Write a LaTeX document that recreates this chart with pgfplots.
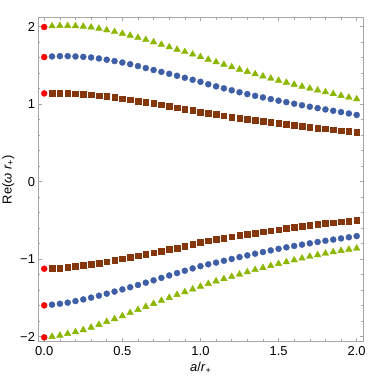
\documentclass[border=0pt]{standalone}
\usepackage{fontspec}
\setmainfont{Liberation Sans}
\usepackage{pgfplots}
\usepackage{pgfplotstable}
\pgfplotsset{compat=1.18}
\definecolor{qnmGreen}{HTML}{8DB600}
\definecolor{qnmBlue}{HTML}{3E5FA6}
\definecolor{qnmBrown}{HTML}{85360A}
\definecolor{frameGrey}{HTML}{A6A6A6}

% columns: a/r+, upper branch (tri, circ, sq), lower branch (sq, circ, tri)
\pgfplotstableread{
x    triU   cirU   sqU    sqL     cirL    triL
0.05 2.009  1.617  1.143  -1.120  -1.587  -2.000
0.10 2.013  1.621  1.143  -1.114  -1.575  -1.984
0.15 2.013  1.621  1.141  -1.100  -1.561  -1.962
0.20 2.010  1.617  1.137  -1.089  -1.541  -1.940
0.25 2.004  1.612  1.131  -1.079  -1.519  -1.914
0.30 1.994  1.604  1.123  -1.066  -1.496  -1.881
0.35 1.978  1.591  1.113  -1.048  -1.471  -1.845
0.40 1.957  1.575  1.101  -1.030  -1.445  -1.807
0.45 1.935  1.557  1.088  -1.012  -1.418  -1.771
0.50 1.913  1.539  1.074  -0.994  -1.390  -1.733
0.55 1.888  1.517  1.059  -0.976  -1.362  -1.692
0.60 1.860  1.493  1.043  -0.956  -1.333  -1.652
0.65 1.832  1.467  1.027  -0.936  -1.303  -1.613
0.70 1.802  1.442  1.010  -0.916  -1.273  -1.574
0.75 1.770  1.418  0.993  -0.895  -1.241  -1.535
0.80 1.738  1.393  0.975  -0.874  -1.210  -1.497
0.85 1.707  1.368  0.957  -0.855  -1.179  -1.459
0.90 1.677  1.342  0.939  -0.832  -1.149  -1.423
0.95 1.645  1.316  0.920  -0.808  -1.119  -1.388
1.00 1.612  1.290  0.901  -0.784  -1.090  -1.352
1.05 1.578  1.258  0.884  -0.763  -1.066  -1.317
1.10 1.545  1.231  0.868  -0.744  -1.044  -1.284
1.15 1.513  1.205  0.851  -0.727  -1.020  -1.254
1.20 1.481  1.180  0.835  -0.710  -0.997  -1.225
1.25 1.450  1.155  0.820  -0.693  -0.973  -1.196
1.30 1.420  1.131  0.806  -0.677  -0.951  -1.166
1.35 1.391  1.109  0.792  -0.662  -0.929  -1.137
1.40 1.362  1.088  0.779  -0.647  -0.908  -1.112
1.45 1.334  1.067  0.766  -0.632  -0.887  -1.085
1.50 1.307  1.046  0.754  -0.617  -0.866  -1.059
1.55 1.281  1.027  0.742  -0.603  -0.847  -1.036
1.60 1.255  1.007  0.730  -0.589  -0.829  -1.012
1.65 1.230  0.987  0.718  -0.576  -0.812  -0.989
1.70 1.205  0.968  0.707  -0.563  -0.795  -0.966
1.75 1.181  0.950  0.694  -0.551  -0.778  -0.945
1.80 1.157  0.933  0.683  -0.539  -0.762  -0.925
1.85 1.134  0.916  0.672  -0.528  -0.747  -0.907
1.90 1.111  0.899  0.661  -0.517  -0.732  -0.890
1.95 1.089  0.881  0.650  -0.507  -0.717  -0.874
2.00 1.067  0.862  0.639  -0.496  -0.702  -0.860
}\qnm

\begin{document}
\begin{tikzpicture}
\begin{axis}[
  scale only axis, width=325.7bp, height=324.2bp,
  xmin=-0.04, xmax=2.045, ymin=-2.065, ymax=2.12,
  xtick={0,0.5,1,1.5,2}, xticklabels={0.0,0.5,1.0,1.5,2.0},
  ytick={-2,-1,0,1,2}, yticklabels={−2,−1,0,1,2},
  minor x tick num=4, minor y tick num=4,
  axis line style={frameGrey, line width=0.7bp},
  every tick/.style={frameGrey, line width=0.6bp},
  major tick length=4bp, minor tick length=2.5bp,
  tick label style={font=\fontsize{13}{15}\selectfont},
  xticklabel style={yshift=-1.5bp},
  yticklabel style={xshift=0.5bp},
  label style={font=\fontsize{13}{15}\selectfont},
  xlabel={\textit{a}/\textit{r}\textsubscript{+}},
  ylabel={Re(\textit{ω} \textit{r}\textsubscript{+})},
  xlabel style={at={(axis description cs:0.5,-0.08)}, anchor=center},
  ylabel style={at={(axis description cs:-0.0916,0.5)}, anchor=center},
  clip=false]
\addplot[only marks, mark=triangle*, mark size=3.8bp, qnmGreen] table[x=x, y=triU] {\qnm};
\addplot[only marks, mark=*, mark size=3bp, qnmBlue] table[x=x, y=cirU] {\qnm};
\addplot[only marks, mark=square*, mark size=2.8bp, qnmBrown] table[x=x, y=sqU] {\qnm};
\addplot[only marks, mark=square*, mark size=2.8bp, qnmBrown] table[x=x, y=sqL] {\qnm};
\addplot[only marks, mark=*, mark size=3bp, qnmBlue] table[x=x, y=cirL] {\qnm};
\addplot[only marks, mark=triangle*, mark size=3.8bp, qnmGreen] table[x=x, y=triL] {\qnm};
% a = 0 values
\addplot[only marks, mark=*, mark size=3bp, red] coordinates
  {(0,1.997) (0,1.609) (0,1.140) (0,-1.123) (0,-1.596) (0,-2.009)};
\end{axis}
\pgfresetboundingbox
\path ([shift={(-38bp,-36.3bp)}]current axis.south west)
  rectangle ([shift={(18.3bp,17.5bp)}]current axis.north east);
\end{tikzpicture}
\end{document}
